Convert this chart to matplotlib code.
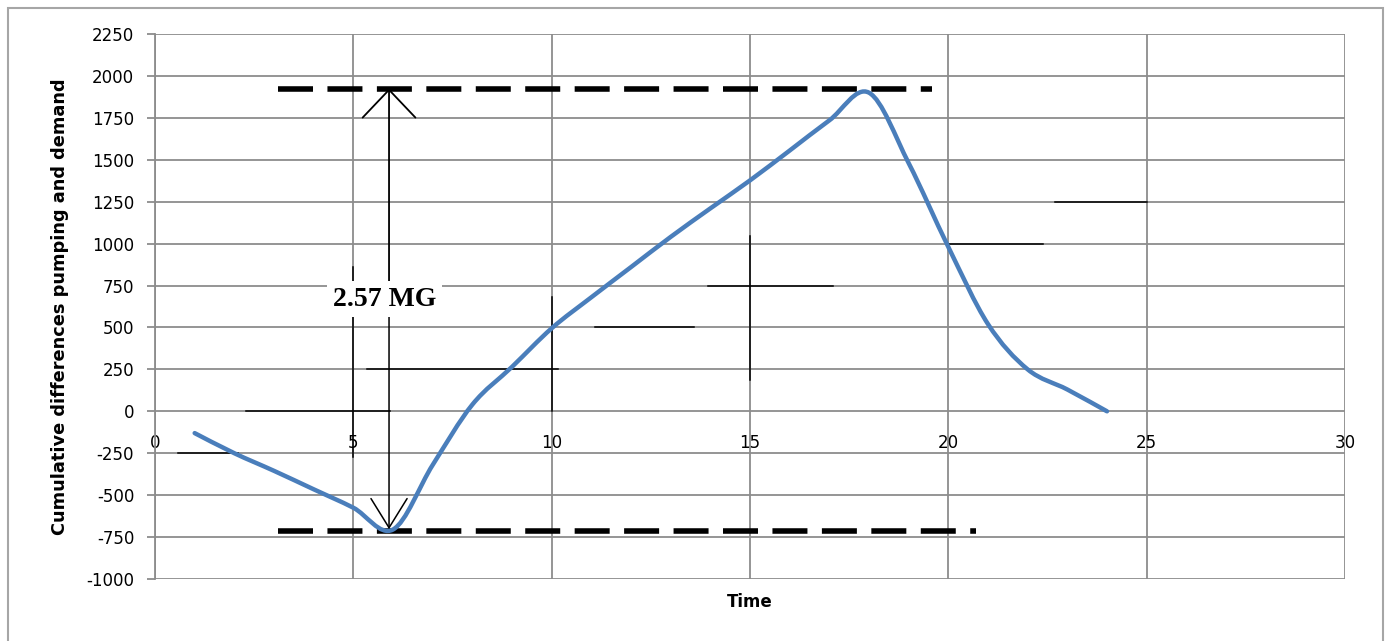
# Cumulative difference between pumping and demand (Excel-style line chart)

import numpy as np
import matplotlib.pyplot as plt
from matplotlib.path import Path
from matplotlib.patches import PathPatch, Rectangle, FancyArrowPatch

plt.rcParams["axes.unicode_minus"] = False

# Data
hours = [1, 2, 3, 4, 5, 6, 7, 8, 9, 10, 11, 12,
         13, 14, 15, 16, 17, 18, 19, 20, 21, 22, 23, 24]
cum_diff = [-130, -250, -355, -465, -575, -705, -320, 40, 265, 495, 680, 860,
            1040, 1210, 1377, 1555, 1735, 1900, 1480, 980, 520, 250, 130, 0]

storage_top = 1925
storage_bottom = -715
top_span = (3.1, 19.6)
bottom_span = (3.1, 20.7)
arrow_x = 5.9
storage_label = "2.57 MG"

# stray error-bar style strokes left on the chart: (x0, x1, y0, y1)
stray_segments = [
    (0.58, 2.09, -250, -250),
    (2.3, 5.92, 0, 0),
    (5.35, 10.15, 250, 250),
    (11.1, 13.6, 500, 500),
    (13.94, 17.1, 750, 750),
    (19.96, 22.38, 1000, 1000),
    (22.69, 25.0, 1250, 1250),
    (5.0, 5.0, -275, 860),
    (10.0, 10.0, 0, 680),
    (15.0, 15.0, 185, 1045),
]

x_ticks = [0, 5, 10, 15, 20, 25, 30]
y_ticks = list(range(-1000, 2251, 250))

grid_col = "#8c8c8c"
blue = "#4a7ebb"


def smooth_path(xs, ys):
    """Excel-like smoothed line: cubic Bezier through every point."""
    pts = np.column_stack([xs, ys]).astype(float)
    n = len(pts)
    verts = [pts[0]]
    codes = [Path.MOVETO]
    for i in range(n - 1):
        p0 = pts[i - 1] if i > 0 else pts[i]
        p1 = pts[i]
        p2 = pts[i + 1]
        p3 = pts[i + 2] if i + 2 < n else pts[i + 1]
        c1 = p1 + (p2 - p0) / 6.0
        c2 = p2 - (p3 - p1) / 6.0
        verts += [c1, c2, p2]
        codes += [Path.CURVE4] * 3
    return Path(verts, codes)


fig = plt.figure(figsize=(13.89, 6.41), dpi=100)
ax = fig.add_axes([155 / 1389, 1 - 579 / 641, 1190 / 1389, 545 / 641])

# chart area border
fig.patches.append(Rectangle((8 / 1389, -0.05), 1375 / 1389, 1 - 8 / 641 + 0.05,
                             transform=fig.transFigure, fill=False,
                             edgecolor="#a6a6a6", linewidth=1.5))

ax.set_xlim(0, 30)
ax.set_ylim(-1000, 2250)
ax.set_xticks(x_ticks)
ax.set_yticks(y_ticks)
ax.grid(True, color=grid_col, linewidth=1.3)
ax.set_axisbelow(True)

for s in ["top", "right"]:
    ax.spines[s].set_visible(False)
ax.spines["left"].set_color(grid_col)
ax.spines["left"].set_linewidth(1.3)
ax.spines["bottom"].set_position(("data", 0))
ax.spines["bottom"].set_visible(False)

ax.tick_params(axis="y", length=6, width=1.3, color=grid_col, labelsize=12, pad=9)
ax.tick_params(axis="x", length=0, labelsize=12, pad=16)

# stray black strokes
for x0, x1, y0, y1 in stray_segments:
    ax.plot([x0, x1], [y0, y1], color="black", linewidth=1.1, zorder=3)

# storage marker dashed lines
ax.plot(top_span, [storage_top, storage_top], color="black", linewidth=4,
        dashes=(6.3, 2.6), zorder=4)
ax.plot(bottom_span, [storage_bottom, storage_bottom], color="black", linewidth=4,
        dashes=(6.3, 2.6), zorder=4)

# main curve
ax.add_patch(PathPatch(smooth_path(hours, cum_diff), facecolor="none",
                       edgecolor=blue, linewidth=3.2, zorder=5,
                       capstyle="round", joinstyle="round"))

# double headed arrow, drawn as two halves with different heads
mid = (storage_top + storage_bottom) / 2
ax.add_patch(FancyArrowPatch((arrow_x, mid), (arrow_x, storage_top),
                             arrowstyle="->,head_length=20,head_width=19",
                             mutation_scale=1, color="black", linewidth=1.3,
                             shrinkA=0, shrinkB=0, zorder=6))
ax.add_patch(FancyArrowPatch((arrow_x, mid), (arrow_x, storage_bottom + 12),
                             arrowstyle="->,head_length=21,head_width=13",
                             mutation_scale=1, color="black", linewidth=1.1,
                             shrinkA=0, shrinkB=0, zorder=6))

ax.text(arrow_x - 0.12, 668, storage_label, fontsize=20, fontweight="bold",
        family="Liberation Serif", ha="center", va="center", zorder=7,
        bbox=dict(facecolor="white", edgecolor="none", pad=4))

ax.set_xlabel("Time", fontsize=12, fontweight="bold")
ax.xaxis.set_label_coords(0.5, -0.025)
ax.set_ylabel("Cumulative differences pumping and demand", fontsize=12.8,
              fontweight="bold", labelpad=12)

plt.savefig("out.png", dpi=100)
